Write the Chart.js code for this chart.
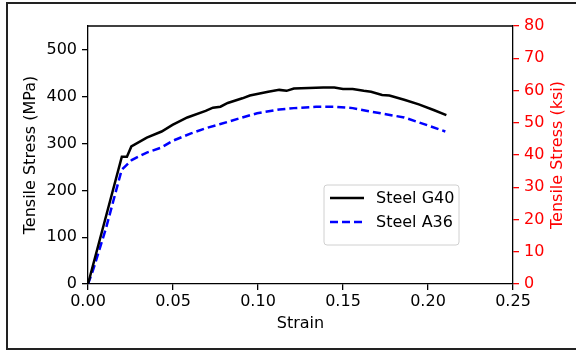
<!DOCTYPE html>
<html><head><meta charset="utf-8">
<script src="https://cdn.jsdelivr.net/npm/chart.js@4.4.0/dist/chart.umd.min.js"></script>
<style>
html,body{margin:0;padding:0;background:#fff;}
#wrap{position:relative;width:576px;height:351px;overflow:hidden;}
#frame{position:absolute;left:6px;top:2px;width:572px;height:348px;border-left:2px solid #222;border-top:2px solid #222;border-bottom:2px solid #222;box-sizing:border-box;pointer-events:none;}
canvas{position:absolute;left:0;top:0;}
</style></head><body>
<div id="wrap"><canvas id="c" width="576" height="351"></canvas><div id="frame"></div></div>
<script>
const strainG40 = [0, 0.0199, 0.0229, 0.0255, 0.0346, 0.0433, 0.0497, 0.0584, 0.0692, 0.0735, 0.0779, 0.0822, 0.0908, 0.0952, 0.0995, 0.106, 0.1125, 0.1168, 0.1211, 0.1298, 0.1384, 0.1449, 0.150, 0.1557, 0.1622, 0.1665, 0.173, 0.1773, 0.186, 0.1946, 0.2033, 0.2108];
const stressG40 = [0, 272, 272, 294, 313, 326, 340, 356, 370, 377, 379, 387, 397, 403, 406, 411, 415, 413, 418, 419, 420, 420, 417, 417, 413, 411, 404, 403, 394, 384, 372, 361];
const strainA36 = [0, 0.003, 0.0105, 0.0198, 0.0234, 0.0257, 0.0346, 0.0433, 0.0497, 0.0606, 0.0692, 0.0779, 0.0908, 0.0995, 0.1125, 0.1211, 0.1341, 0.1449, 0.1557, 0.1644, 0.1752, 0.186, 0.1968, 0.2102];
const stressA36 = [0, 30, 118, 244, 257, 265, 281, 292, 306, 322, 333, 342, 356, 365, 373, 376, 379, 379, 376, 370, 363, 356, 343, 326];
const xTicks = [0, 0.05, 0.10, 0.15, 0.20, 0.25];
const mpaTicks = [0, 100, 200, 300, 400, 500];
const ksiTicks = [0, 10, 20, 30, 40, 50, 60, 70, 80];
const seriesLabels = ['Steel G40', 'Steel A36'];
const rightTitle = 'Tensile Stress (ksi)';
const KSI_TO_MPA = 6.894757;
const KSI_MAX = 80;

const FONT = "'DejaVu Sans', sans-serif";
const FS = 16;
const fnt = {family: FONT, size: FS};

const toPts = (xs, ys) => xs.map((x, i) => ({x: x, y: ys[i]}));

const legendPlugin = {
  id: 'boxLegend',
  afterDraw(chart) {
    const ctx = chart.ctx;
    const bx = 324, by = 185, bw = 135, bh = 60, r = 3;
    ctx.save();
    ctx.beginPath();
    ctx.moveTo(bx + r, by);
    ctx.arcTo(bx + bw, by, bx + bw, by + bh, r);
    ctx.arcTo(bx + bw, by + bh, bx, by + bh, r);
    ctx.arcTo(bx, by + bh, bx, by, r);
    ctx.arcTo(bx, by, bx + bw, by, r);
    ctx.closePath();
    ctx.fillStyle = 'rgba(255,255,255,0.85)';
    ctx.fill();
    ctx.strokeStyle = '#d0d0d0';
    ctx.lineWidth = 1;
    ctx.stroke();
    const rows = [198, 222];
    chart.data.datasets.forEach((ds, i) => {
      const y = rows[i];
      ctx.beginPath();
      ctx.setLineDash(ds.borderDash || []);
      ctx.strokeStyle = ds.borderColor;
      ctx.lineWidth = ds.borderWidth;
      ctx.moveTo(330, y);
      ctx.lineTo(364, y);
      ctx.stroke();
      ctx.setLineDash([]);
      ctx.fillStyle = '#000';
      ctx.font = FS + "px " + FONT;
      ctx.textBaseline = 'middle';
      ctx.textAlign = 'left';
      ctx.fillText(ds.label, 376, y + 1);
    });
    ctx.restore();
  }
};

const topSpine = {
  id: 'topSpine',
  afterDatasetsDraw(chart) {
    const a = chart.chartArea, ctx = chart.ctx;
    ctx.save();
    ctx.strokeStyle = '#000';
    ctx.lineWidth = 1.3;
    ctx.beginPath();
    ctx.moveTo(a.left, a.top);
    ctx.lineTo(a.right, a.top);
    ctx.stroke();
    // right axis title, reading bottom-to-top
    ctx.translate(558, (a.top + a.bottom) / 2);
    ctx.rotate(-Math.PI / 2);
    ctx.fillStyle = '#ff0000';
    ctx.font = FS + "px " + FONT;
    ctx.textAlign = 'center';
    ctx.textBaseline = 'middle';
    ctx.fillText(rightTitle, 0, 0);
    ctx.restore();
  }
};

new Chart(document.getElementById('c'), {
  type: 'line',
  data: {
    datasets: [
      {label: seriesLabels[0], data: toPts(strainG40, stressG40), borderColor: '#000000', borderWidth: 2.5, pointRadius: 0, tension: 0, fill: false, yAxisID: 'y'},
      {label: seriesLabels[1], data: toPts(strainA36, stressA36), borderColor: '#0000ff', borderWidth: 2.5, borderDash: [8, 4], pointRadius: 0, tension: 0, fill: false, yAxisID: 'y'}
    ]
  },
  options: {
    responsive: false,
    animation: false,
    devicePixelRatio: 1,
    layout: {padding: {top: 26, left: 0, right: 0, bottom: 0}},
    plugins: {legend: {display: false}, tooltip: {enabled: false}},
    scales: {
      x: {
        type: 'linear', position: 'bottom', min: 0, max: 0.25,
        afterBuildTicks: s => { s.ticks = xTicks.map(v => ({value: v})); },
        afterFit: s => { s.height = 67; },
        ticks: {callback: v => Number(v).toFixed(2), font: fnt, color: '#000', padding: 2, maxRotation: 0, autoSkip: false},
        grid: {drawOnChartArea: false, drawTicks: true, tickLength: 6, color: '#000', lineWidth: 1.3},
        border: {display: true, color: '#000', width: 1.3},
        title: {display: true, text: 'Strain', font: fnt, color: '#000', padding: {top: 0, bottom: 18}}
      },
      y: {
        type: 'linear', position: 'left', min: 0, max: KSI_MAX * KSI_TO_MPA,
        afterBuildTicks: s => { s.ticks = mpaTicks.map(v => ({value: v})); },
        afterFit: s => { s.width = 88; },
        ticks: {font: fnt, color: '#000', padding: 5, autoSkip: false},
        grid: {drawOnChartArea: false, drawTicks: true, tickLength: 6, color: '#000', lineWidth: 1.3},
        border: {display: true, color: '#000', width: 1.3},
        title: {display: true, text: 'Tensile Stress (MPa)', font: fnt, color: '#000', padding: {top: 21, bottom: 0}}
      },
      y2: {
        type: 'linear', position: 'right', min: 0, max: KSI_MAX,
        afterBuildTicks: s => { s.ticks = ksiTicks.map(v => ({value: v})); },
        afterFit: s => { s.width = 63; },
        ticks: {font: fnt, color: '#ff0000', padding: 5, autoSkip: false},
        grid: {drawOnChartArea: false, drawTicks: true, tickLength: 6, color: '#ff0000', lineWidth: 1.3},
        border: {display: true, color: '#000', width: 1.3},
        title: {display: false}
      }
    }
  },
  plugins: [topSpine, legendPlugin]
});
</script>
</body></html>
